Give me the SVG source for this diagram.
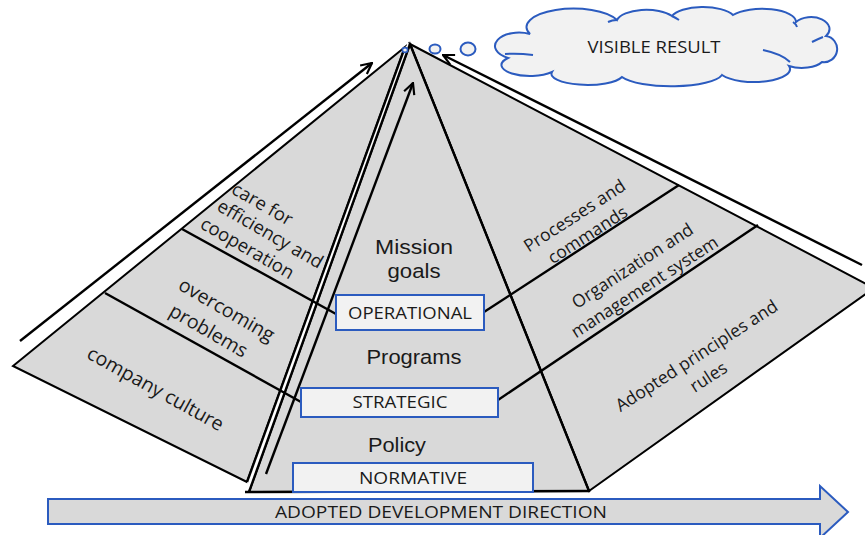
<svg xmlns="http://www.w3.org/2000/svg" width="865" height="535" viewBox="0 0 865 535">
<defs>
<style>
.face{fill:#d9d9d9;stroke:#000;stroke-width:2;stroke-linejoin:miter}
.ln{stroke:#000;stroke-width:2.4;fill:none}
.box{fill:#f2f2f2;stroke:#2b5bbf;stroke-width:2}
.t{font-family:"Open Sans","Liberation Sans",sans-serif;fill:#1a1a1a}
.big{font-family:"Liberation Sans","Open Sans",sans-serif;font-size:20.5px}
.mid{font-size:17.5px}
.lg{font-size:19.5px}
.md{font-size:18.5px}
.cap{font-size:16px}
</style>
<marker id="ah" viewBox="0 0 12 12" refX="11" refY="6" markerWidth="13" markerHeight="13" markerUnits="userSpaceOnUse" orient="auto">
<path d="M1,1 L11,6 L1,11" fill="none" stroke="#000" stroke-width="2"/>
</marker>
</defs>
<rect width="865" height="535" fill="#fff"/>

<g id="left-face">
<polygon class="face" points="405,47 13,366 247,482"/>
<text class="t md" transform="translate(263,203) rotate(30)" text-anchor="middle" dominant-baseline="central">care for</text>
<text class="t md" transform="translate(271,233) rotate(30)" text-anchor="middle" dominant-baseline="central">efficiency and</text>
<text class="t md" transform="translate(248,247) rotate(30)" text-anchor="middle" dominant-baseline="central">cooperation</text>
<text class="t lg" transform="translate(227,309) rotate(30)" text-anchor="middle" dominant-baseline="central">overcoming</text>
<text class="t lg" transform="translate(209,330) rotate(30)" text-anchor="middle" dominant-baseline="central">problems</text>
<text class="t lg" transform="translate(156,388) rotate(29)" text-anchor="middle" dominant-baseline="central">company culture</text>
</g>

<g id="right-face">
<polygon class="face" points="410,44 874,288 589,491"/>
<text class="t mid" transform="translate(574,215) rotate(-33)" text-anchor="middle" dominant-baseline="central">Processes and</text>
<text class="t mid" transform="translate(587,234) rotate(-33)" text-anchor="middle" dominant-baseline="central">commands</text>
<text class="t mid" transform="translate(632,265) rotate(-33)" text-anchor="middle" dominant-baseline="central">Organization and</text>
<text class="t mid" transform="translate(644,286) rotate(-33)" text-anchor="middle" dominant-baseline="central">management system</text>
<text class="t mid" transform="translate(696,355) rotate(-33)" text-anchor="middle" dominant-baseline="central">Adopted principles and</text>
<text class="t mid" transform="translate(708,376) rotate(-33)" text-anchor="middle" dominant-baseline="central">rules</text>
</g>

<g id="front-face">
<polygon class="face" points="410,44 589,491 249,492"/>
<polygon points="247,482 405,47 410,44 249,492" fill="#fff"/>
<line class="ln" x1="247" y1="482" x2="405" y2="47" stroke-width="2"/>
<line class="ln" x1="249" y1="492" x2="410" y2="44" stroke-width="2"/>
<line class="ln" x1="410" y1="44" x2="589" y2="491" stroke-width="4"/>
<line class="ln" x1="245" y1="492" x2="590" y2="491" stroke-width="2.5"/>
<text class="t big" x="414" y="254" text-anchor="middle" textLength="78" lengthAdjust="spacingAndGlyphs">Mission</text>
<text class="t big" x="414" y="278" text-anchor="middle" textLength="53" lengthAdjust="spacingAndGlyphs">goals</text>
<text class="t big" x="414" y="364" text-anchor="middle" textLength="95" lengthAdjust="spacingAndGlyphs">Programs</text>
<text class="t big" x="397" y="452" text-anchor="middle" textLength="58" lengthAdjust="spacingAndGlyphs">Policy</text>
</g>

<g id="connectors">
<line class="ln" x1="182" y1="229" x2="336" y2="314"/>
<line class="ln" x1="105" y1="293" x2="301" y2="402"/>
<line class="ln" x1="484" y1="312" x2="679" y2="185"/>
<line class="ln" x1="498" y1="400" x2="758" y2="225"/>
<line class="ln" x1="20" y1="341" x2="372" y2="63" stroke-width="2" marker-end="url(#ah)"/>
<line class="ln" x1="266" y1="474" x2="413" y2="83" stroke-width="2" marker-end="url(#ah)"/>
<line class="ln" x1="862" y1="265" x2="443" y2="55" stroke-width="2" marker-end="url(#ah)"/>
</g>

<g id="operational">
<rect class="box" x="336" y="295" width="148" height="35"/>
<text class="t cap" x="410" y="319" text-anchor="middle" textLength="124" lengthAdjust="spacingAndGlyphs">OPERATIONAL</text>
</g>
<g id="strategic">
<rect class="box" x="301" y="388" width="197" height="29"/>
<text class="t cap" x="400" y="408" text-anchor="middle" textLength="95" lengthAdjust="spacingAndGlyphs">STRATEGIC</text>
</g>
<g id="normative">
<rect class="box" x="293" y="463" width="240" height="29"/>
<text class="t cap" x="413" y="484" text-anchor="middle" textLength="108" lengthAdjust="spacingAndGlyphs">NORMATIVE</text>
</g>

<g id="direction-arrow">
<polygon points="48,499 820,499 820,486 848,512 820,538 820,524 48,524" fill="#d9d9d9" stroke="#2b5bbf" stroke-width="2"/>
<text class="t cap" x="441" y="518" text-anchor="middle" textLength="332" lengthAdjust="spacingAndGlyphs">ADOPTED DEVELOPMENT DIRECTION</text>
</g>

<g id="visible-result">
<ellipse cx="405" cy="50" rx="2.6" ry="2.4" fill="#f2f2f2" stroke="#2b5bbf" stroke-width="1.6"/>
<ellipse cx="435" cy="49" rx="5.5" ry="4.5" fill="#f2f2f2" stroke="#2b5bbf" stroke-width="2"/>
<ellipse cx="468" cy="49" rx="7.5" ry="6.5" fill="#f2f2f2" stroke="#2b5bbf" stroke-width="2"/>
<path d="M 508,58 A 16 9 0 0 1 530,34 A 46 18 0 0 1 617,20 A 30 13 0 0 1 672,16 A 32 12 0 0 1 733,15 A 34 13 0 0 1 796,22 A 17 11 0 0 1 826,36 A 13 13 0 0 1 822,62 A 22 10 0 0 1 789,66 A 36 13 0 0 1 722,75 A 52 14 0 0 1 622,77 A 36 11 0 0 1 552,72 A 26 10 0 0 1 508,58 Z" fill="#f2f2f2" stroke="#2b5bbf" stroke-width="2"/>
<path d="M 533,55 Q 518,53 505,54 M 812,42 Q 818,39 823,37 M 763,50 Q 782,54 790,62 M 608,22 Q 612,20 617,20 M 672,16 Q 676,18 679,20 M 793,22 Q 796,24 797,27" fill="none" stroke="#2b5bbf" stroke-width="2"/>
<text class="t cap" x="654" y="53" text-anchor="middle" textLength="133" lengthAdjust="spacingAndGlyphs">VISIBLE RESULT</text>
</g>
</svg>
